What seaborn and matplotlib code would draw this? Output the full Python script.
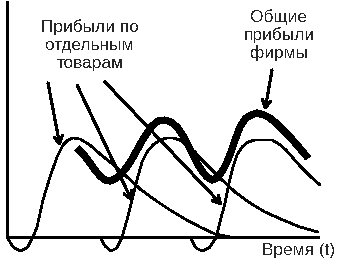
import matplotlib
matplotlib.use("Agg")
import matplotlib.pyplot as plt
import seaborn as sns
import pandas as pd

# ---- data (time t, profit p) ----
prod1_t = [0, 0.6, 1.3, 2.0, 2.6, 3.0, 3.6, 4.3, 5.0, 5.6, 6.1, 6.6, 7.3, 8.3, 9.3, 10.3, 11.8, 13.3, 14.8, 16.3, 17.8, 19.3, 20.8, 22.3]
prod1_p = [0, -1.0, -1.4, -1.1, 0, 1.0, 3.7, 6.0, 8.0, 9.2, 9.7, 9.9, 9.8, 9.2, 8.3, 7.5, 6.2, 4.8, 3.7, 2.7, 1.8, 1.0, 0.3, 0]

prod2_t = [9.3, 9.8, 10.4, 11.0, 11.5, 12.0, 12.5, 13.0, 13.5, 14.0, 14.6, 15.3, 16.0, 16.6, 17.3, 18.0, 18.8, 19.3, 20.3, 21.3, 22.8, 24.3, 25.8, 27.6, 29.3, 31.1]
prod2_p = [0, -0.9, -1.4, -1.1, 0, 1.7, 3.7, 5.7, 7.5, 8.5, 9.2, 9.7, 9.9, 9.9, 9.7, 9.1, 8.5, 7.9, 6.9, 5.9, 4.5, 3.4, 2.5, 1.7, 1.0, 0.5]

prod3_t = [18.3, 18.9, 19.5, 20.2, 20.9, 21.3, 21.8, 22.2, 22.6, 23.0, 23.5, 24.1, 24.8, 25.6, 26.5, 27.2, 27.9, 28.6, 29.3, 30.3, 31.3]
prod3_p = [0, -1.1, -1.4, -1.1, -0.1, 1.5, 3.4, 5.4, 7.0, 8.2, 9.0, 9.5, 9.7, 9.7, 9.7, 9.3, 8.7, 7.9, 7.1, 6.1, 5.2]

total_t = [7.0, 7.7, 8.3, 8.8, 9.3, 9.8, 10.3, 10.8, 11.3, 12.0, 12.5, 13.0, 13.5, 14.0, 14.5, 15.1, 15.8, 16.4, 17.0, 17.5, 18.0, 18.5, 19.0, 19.5, 20.0, 20.5, 21.0, 21.6, 22.0, 22.4, 22.8, 23.3, 23.8, 24.4, 25.0, 25.7, 26.3, 27.0, 27.6, 28.3, 29.0, 29.6, 30.1]
total_p = [8.9, 8.2, 7.4, 6.7, 6.1, 5.7, 5.6, 5.8, 6.2, 7.0, 7.8, 8.7, 9.6, 10.4, 11.1, 11.6, 11.7, 11.5, 11.0, 10.3, 9.4, 8.4, 7.4, 6.6, 6.0, 5.7, 5.9, 6.7, 7.5, 8.5, 9.7, 11.0, 11.8, 12.2, 12.4, 12.2, 11.9, 11.3, 10.7, 10.0, 9.2, 8.5, 7.9]

label_products = "Прибыли по\nотдельным\nтоварам"
label_total = "Общие\nприбыли\nфирмы"
label_time = "Время (t)"

# ---- figure ----
sns.set_style("white")
plt.rcParams["font.family"] = ["Liberation Sans", "DejaVu Sans"]
plt.rcParams["text.antialiased"] = False

fig = plt.figure(figsize=(3.39, 2.63), dpi=100)
ax = fig.add_axes([0, 0, 1, 1])

for t, p in [(prod1_t, prod1_p), (prod2_t, prod2_p), (prod3_t, prod3_p)]:
    df = pd.DataFrame({"t": t, "p": p})
    sns.lineplot(data=df, x="t", y="p", sort=False, estimator=None,
                 color="black", linewidth=1.2, ax=ax, antialiased=False)

df_total = pd.DataFrame({"t": total_t, "p": total_p})
sns.lineplot(data=df_total, x="t", y="p", sort=False, estimator=None,
             color="black", linewidth=4.4, ax=ax, solid_capstyle="butt",
             antialiased=False)

ax.set_xlim(-0.7, 33.2)
ax.set_ylim(-2.6, 23.7)
ax.set_xlabel("")
ax.set_ylabel("")
ax.set_xticks([])
ax.set_yticks([])

for s in ["top", "right"]:
    ax.spines[s].set_visible(False)
ax.spines["left"].set_position(("data", 0))
ax.spines["bottom"].set_position(("data", 0))
ax.spines["left"].set_bounds(0, 23.5)
ax.spines["bottom"].set_bounds(0, 31.1)
for s in ["left", "bottom"]:
    ax.spines[s].set_linewidth(2.0)
    ax.spines[s].set_color("black")
    ax.spines[s].set_zorder(5)
    ax.spines[s].set_antialiased(False)

# ---- labels ----
fs = 12.4
ax.text(8.3, 21.8, label_products, ha="center", va="top", fontsize=fs,
        linespacing=1.25)
ax.text(27.2, 22.8, label_total, ha="center", va="top", fontsize=fs,
        linespacing=1.2)
ax.text(25.5, -1.85, label_time, ha="left", va="baseline", fontsize=fs)

arrow_kw = dict(arrowstyle="->,head_length=0.55,head_width=0.3",
                color="black", lw=1.5, shrinkA=0, shrinkB=0,
                antialiased=False)
for start, end in [((4.1, 15.4), (5.3, 9.1)),
                   ((7.0, 15.2), (12.5, 3.6)),
                   ((9.8, 15.5), (21.5, 3.2)),
                   ((26.5, 16.7), (25.8, 12.7))]:
    ax.annotate("", xy=end, xytext=start, arrowprops=arrow_kw)

fig.savefig("out.png", dpi=100)
